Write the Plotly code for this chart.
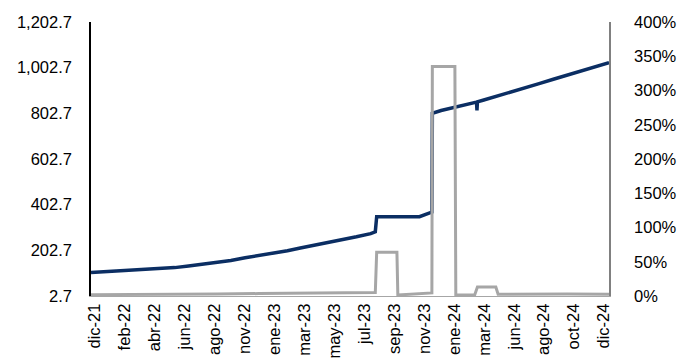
import pandas as pd
import plotly.graph_objects as go

# Blue series: exchange rate (left axis)
rate_dates = [
    "2021-12-01", "2022-01-01", "2022-02-01", "2022-03-01", "2022-04-01", "2022-05-01",
    "2022-06-01", "2022-07-01", "2022-08-01", "2022-09-01", "2022-10-01", "2022-11-01",
    "2022-12-01", "2023-01-01", "2023-02-01", "2023-03-01", "2023-04-01", "2023-05-01",
    "2023-06-01", "2023-07-01", "2023-08-01", "2023-08-11", "2023-08-14", "2023-11-15",
    "2023-12-12", "2023-12-13", "2024-01-01", "2024-02-01", "2024-03-01", "2024-03-18",
    "2024-03-19", "2024-03-20", "2024-04-01", "2024-05-01", "2024-06-01", "2024-07-01",
    "2024-08-01", "2024-09-01", "2024-10-01", "2024-11-01", "2024-12-01", "2024-12-31",
]
rate_values = [
    106, 109, 112.5, 115.5, 118, 122,
    127, 134, 141, 150, 158, 170,
    180, 189, 201, 213, 225, 236,
    248, 262, 276, 284, 350, 350,
    370, 803, 815, 830, 845, 852,
    815, 853, 860, 877, 897, 915,
    933, 952, 970, 990, 1008, 1025,
]

# Gray series: percent (right axis)
pct_dates = [
    "2021-12-01", "2022-03-01", "2022-06-01", "2022-09-01", "2022-12-01", "2023-03-01",
    "2023-06-01", "2023-08-11", "2023-08-14", "2023-09-27", "2023-09-29", "2023-10-20",
    "2023-11-20", "2023-12-12", "2023-12-13", "2024-01-31", "2024-02-02", "2024-03-14",
    "2024-03-20", "2024-04-29", "2024-05-04", "2024-07-01", "2024-10-01", "2024-12-31",
]
pct_values = [
    2, 2, 2.5, 3, 3.5, 4,
    4.5, 5, 64, 64, 1.5, 2.5,
    4.5, 4.5, 335, 335, 1.5, 1.5,
    13, 13, 2.5, 3, 3, 2.5,
]

tick_labels = [
    "dic-21", "feb-22", "abr-22", "jun-22", "ago-22", "nov-22", "ene-23", "mar-23",
    "may-23", "jul-23", "sep-23", "nov-23", "ene-24", "mar-24", "jun-24", "ago-24",
    "oct-24", "dic-24",
]
tick_dates = pd.date_range("2021-12-10", "2024-12-20", periods=len(tick_labels))

left_ticks = [2.7 + 200 * k for k in range(7)]
right_ticks = [50 * k for k in range(9)]
right_labels = [f"{v}%" for v in right_ticks]

BLUE = "#0B2E63"
GRAY = "#A6A6A6"
FONT = "Liberation Sans, Arial, sans-serif"

fig = go.Figure()
fig.add_trace(go.Scatter(
    x=pd.to_datetime(rate_dates), y=rate_values, mode="lines",
    line=dict(color=BLUE, width=3.5), yaxis="y", showlegend=False,
))
fig.add_trace(go.Scatter(
    x=pd.to_datetime(pct_dates), y=pct_values, mode="lines",
    line=dict(color=GRAY, width=3), yaxis="y2", showlegend=False,
))

fig.update_layout(
    width=677, height=358,
    margin=dict(l=91, r=68, t=22, b=62, autoexpand=False),
    paper_bgcolor="white", plot_bgcolor="white",
    font=dict(family=FONT, size=16.5, color="#000000"),
    xaxis=dict(
        type="date", range=["2021-12-01", "2024-12-31"], automargin=False,
        tickvals=tick_dates, ticktext=tick_labels, tickangle=-90,
        showgrid=False, zeroline=False, showline=True, linecolor=GRAY, linewidth=1,
        ticks="", ticklen=0,
    ),
    yaxis=dict(
        range=[2.7, 1202.7], tickvals=left_ticks, tickformat=",.1f", automargin=False,
        showgrid=False, zeroline=False, showline=True, linecolor="black", linewidth=1.5,
        ticks="outside", ticklen=14, tickcolor="rgba(0,0,0,0)",
    ),
    yaxis2=dict(
        range=[0, 400], tickvals=right_ticks, ticktext=right_labels, automargin=False,
        overlaying="y", side="right",
        showgrid=False, zeroline=False, showline=True, linecolor="#808080", linewidth=1.5,
        ticks="outside", ticklen=20, tickcolor="rgba(0,0,0,0)",
    ),
)

fig.write_html(
    "out.html",
    config={"displayModeBar": False},
    post_script="document.body.style.margin='0';document.body.style.overflow='hidden';",
)
